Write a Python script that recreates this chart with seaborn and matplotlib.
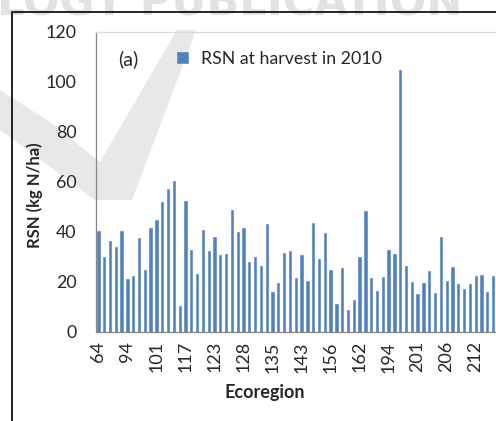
import matplotlib
matplotlib.use("Agg")
import matplotlib.pyplot as plt
from matplotlib.lines import Line2D
from matplotlib.patches import Polygon
import seaborn as sns
import pandas as pd

# ---- data ----
rsn_2010 = [40.4, 30.0, 36.3, 33.7, 40.4, 20.9, 22.3, 37.5, 24.7, 41.6,
            44.5, 52.0, 57.2, 60.3, 10.4, 52.3, 32.7, 23.0, 40.8, 32.3,
            37.9, 30.5, 30.9, 48.7, 40.0, 41.6, 28.0, 30.0, 26.3, 42.9,
            16.0, 19.3, 31.3, 32.1, 21.5, 30.5, 20.1, 43.3, 28.9, 39.6,
            24.7, 11.1, 25.5, 8.7, 12.7, 29.7, 48.3, 21.5, 16.4, 21.9,
            32.7, 30.9, 104.7, 26.3, 19.7, 15.1, 19.3, 24.3, 15.6, 37.9,
            20.1, 25.9, 18.9, 16.9, 18.9, 22.3, 22.7, 16.0, 22.3]
tick_labels = ["64", "94", "101", "117", "123", "128", "135", "143",
               "156", "162", "194", "201", "206", "212"]
label_step = 5
y_ticks = [0, 20, 40, 60, 80, 100, 120]
series_name = "RSN at harvest in 2010"

sns.set_style("white")
plt.rcParams["font.family"] = ["Lato", "DejaVu Sans"]

W, H = 496, 421
fig = plt.figure(figsize=(W / 100, H / 100), dpi=100)
fig.patch.set_facecolor("white")

def fx(px):
    return px / W

def fy(py):
    return 1 - py / H

# watermark decorations
sw = [(0, 90), (50, 122), (100, 162), (177, 30), (196, 30), (132, 200),
      (95, 200), (45, 163), (0, 130)]
fig.add_artist(Polygon([(fx(a), fy(b)) for a, b in sw], closed=True,
                       transform=fig.transFigure, facecolor="#e8e8e8",
                       edgecolor="none", zorder=-2))
fig.text(fx(-3), fy(15), "LOGY PUBLICATION", fontsize=31, fontweight="bold",
         color="#e2e2e2", family="DejaVu Sans", ha="left", va="baseline",
         zorder=-2)

# figure border
fig.add_artist(Line2D([fx(12), fx(12)], [fy(12), 0], transform=fig.transFigure,
                      color="black", lw=1.2, zorder=5))
fig.add_artist(Line2D([fx(12), 1], [fy(12), fy(12)], transform=fig.transFigure,
                      color="black", lw=1.2, zorder=5))

left_px, right_px, top_px, bot_px = 95.5, 496, 31.7, 331.5
ax = fig.add_axes([fx(left_px), fy(bot_px), fx(right_px - left_px),
                   (bot_px - top_px) / H])
ax.patch.set_alpha(0)
ax.set_zorder(1)

df = pd.DataFrame({"pos": list(range(len(rsn_2010))), "rsn": rsn_2010})
sns.barplot(data=df, x="pos", y="rsn", color="#4F81BD", saturation=1,
            width=0.4, edgecolor="#4F81BD", linewidth=0.4, ax=ax,
            label=series_name)

n = len(rsn_2010)
ax.set_xlim(-0.5, -0.5 + (right_px - left_px) / 5.827)
ax.set_ylim(0, 120)

ax.set_yticks(y_ticks)
ax.set_yticklabels([str(v) for v in y_ticks], fontsize=12.8, color="#262626")
ax.set_xticks([i * label_step for i in range(len(tick_labels))])
ax.set_xticklabels(tick_labels, rotation=90, fontsize=13, color="#262626")
ax.set_xticks([i - 0.5 for i in range(n + 1)], minor=True)
ax.tick_params(axis="x", which="major", length=0, pad=7)
ax.tick_params(axis="x", which="minor", length=3.5, width=0.8,
               color="#868686", direction="out")
ax.tick_params(axis="y", which="major", length=4.5, width=0.8,
               color="#868686", direction="out", pad=9)

for s in ["left", "bottom"]:
    ax.spines[s].set_color("#868686")
    ax.spines[s].set_linewidth(0.9)
ax.spines["top"].set_color("#d9d9d9")
ax.spines["top"].set_linewidth(0.9)
ax.spines["right"].set_visible(False)

ax.set_xlabel("Ecoregion", fontsize=13, fontweight="bold", color="#262626")
ax.xaxis.set_label_coords((265 - left_px) / (right_px - left_px),
                          (bot_px - 384) / (bot_px - top_px))
ax.set_ylabel("RSN (kg N/ha)", fontsize=12, fontweight="bold", color="#262626")
ax.yaxis.set_label_coords((43 - left_px) / (right_px - left_px),
                          (bot_px - 195) / (bot_px - top_px))

leg = ax.legend(loc="center left",
                bbox_to_anchor=((177 - left_px) / (right_px - left_px),
                                (bot_px - 59) / (bot_px - top_px)),
                frameon=False, fontsize=12.8, handlelength=0.6,
                handleheight=0.6, handletextpad=0.75, borderpad=0,
                borderaxespad=0)
for t in leg.get_texts():
    t.set_color("#262626")

ax.text((128 - left_px) / (right_px - left_px),
        (bot_px - 59) / (bot_px - top_px), "(a)", transform=ax.transAxes,
        ha="center", va="center", fontsize=14, color="#262626")

fig.savefig("out.png", dpi=100)
